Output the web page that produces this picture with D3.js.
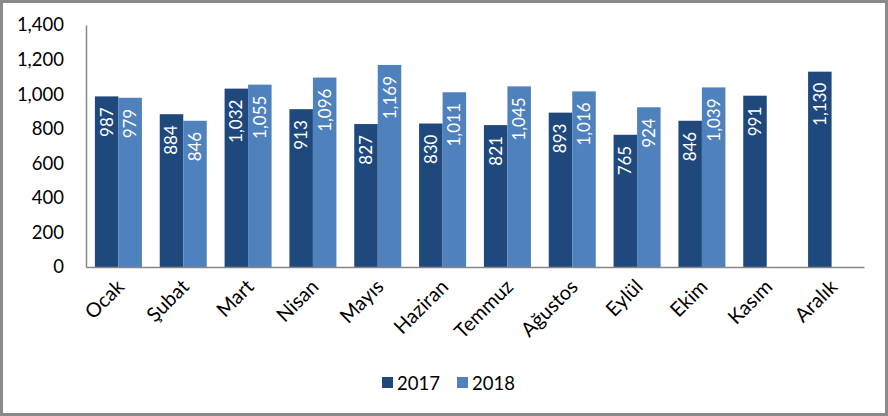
<!DOCTYPE html>
<html><head><meta charset="utf-8">
<script src="https://cdn.jsdelivr.net/npm/d3@7/dist/d3.min.js"></script>
<style>body{margin:0;background:#fff}svg{display:block}text{font-family:Lato,"Open Sans",sans-serif}</style>
</head><body><svg id="c" width="888" height="416"></svg>
<script>
const months = ["Ocak","Şubat","Mart","Nisan","Mayıs","Haziran","Temmuz","Ağustos","Eylül","Ekim","Kasım","Aralık"];
const series = ["2017","2018"];
const values2017 = [987,884,1032,913,827,830,821,893,765,846,991,1130];
const values2018 = [979,846,1055,1096,1169,1011,1045,1016,924,1039,null,null];
const yTicks = [0,200,400,600,800,1000,1200,1400];
const colors = ["#1f497d","#4f81bd"];

const svg = d3.select("#c");
svg.append("rect").attr("x",1.5).attr("y",1.5).attr("width",885).attr("height",413)
  .attr("fill","#fff").attr("stroke","#8a8a8a").attr("stroke-width",3);

const pL=86, pR=864, pT=25, pB=267;
const x = d3.scaleBand().domain(months).range([pL,pR]).paddingInner(0.275).paddingOuter(0.1375);
const xs = d3.scaleBand().domain(series).range([0,x.bandwidth()]);
const y = d3.scaleLinear().domain([0,1400]).range([pB,pT]);
const fmt = d3.format(",");

// y axis labels
const ya = svg.append("g").attr("transform",`translate(${pL},0)`)
  .call(d3.axisLeft(y).tickValues(yTicks).tickFormat(fmt).tickSize(0).tickPadding(22));
ya.select(".domain").attr("stroke","#868686").attr("stroke-width",1.5);
ya.selectAll("text").attr("font-size",18.5).attr("fill","#000").attr("font-family","Lato,sans-serif");

const data = [];
months.forEach((m,i)=>{
  [values2017[i],values2018[i]].forEach((v,j)=>{ if(v!=null) data.push({m,s:series[j],v,j}); });
});
const g = svg.append("g");
g.selectAll("rect").data(data).join("rect")
  .attr("x",d=>x(d.m)+xs(d.s)).attr("width",xs.bandwidth())
  .attr("y",d=>y(d.v)).attr("height",d=>pB-y(d.v)).attr("fill",d=>colors[d.j]);
g.selectAll("text").data(data).join("text")
  .attr("transform",d=>`translate(${x(d.m)+xs(d.s)+xs.bandwidth()/2+6},${y(d.v)+11}) rotate(-90)`)
  .attr("text-anchor","end").attr("font-size",17).attr("fill","#fff").text(d=>fmt(d.v));

// x axis
const xa = svg.append("g").attr("transform",`translate(0,${pB})`)
  .call(d3.axisBottom(x).tickSize(0).tickPadding(0));
xa.select(".domain").attr("stroke","#868686").attr("stroke-width",1.5);
xa.selectAll("text").attr("font-size",20).attr("fill","#000")
  .attr("text-anchor","end").attr("dy",0)
  .attr("transform","translate(7,21) rotate(-45)");

// legend
const lg = svg.append("g");
const lx = [382,457];
series.forEach((s,i)=>{
  lg.append("rect").attr("x",lx[i]).attr("y",377).attr("width",11).attr("height",11).attr("fill",colors[i]);
  lg.append("text").attr("x",lx[i]+15).attr("y",389.5).attr("font-size",18.5).attr("fill","#000").text(s);
});
</script></body></html>
